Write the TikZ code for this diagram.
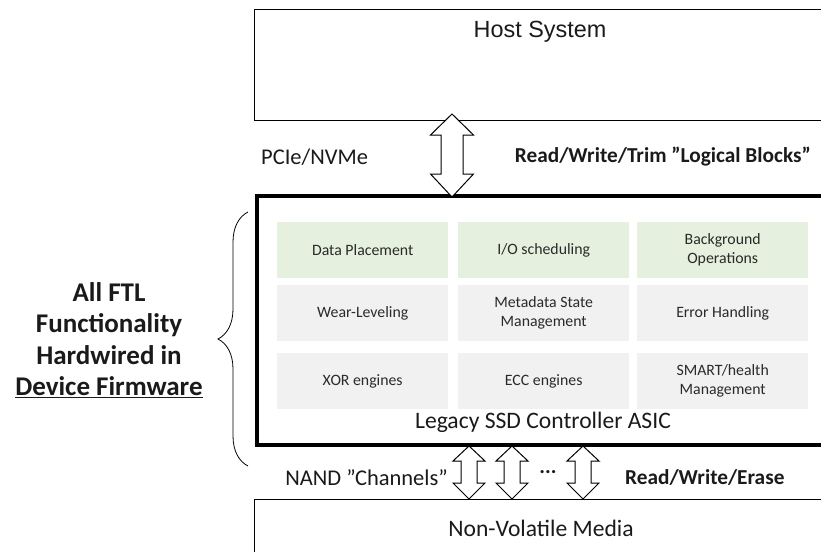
\documentclass[tikz,border=0pt]{standalone}
\usepackage{fontspec}
\setmainfont{Carlito}
\newfontfamily\arialf{Liberation Sans}
\usetikzlibrary{decorations.pathreplacing}
\definecolor{greenfill}{HTML}{E5F0DE}
\definecolor{grayfill}{HTML}{F1F1F1}
\definecolor{txt}{HTML}{1A1A1A}
\definecolor{intxt}{HTML}{2A2A2A}
\tikzset{
  outerbox/.style={draw=black, line width=1.3pt, anchor=north west, inner sep=0pt},
  ctrlbox/.style={draw=black, line width=4pt, anchor=north west, inner sep=0pt},
  cell/.style={anchor=north west, inner sep=0pt, minimum width=171pt, minimum height=56pt},
  greencell/.style={cell, fill=greenfill},
  graycell/.style={cell, fill=grayfill},
  celltext/.style={font=\fontsize{15.8}{19}\selectfont, text=intxt, align=center},
  lbl/.style={font=\fontsize{22.5}{26}\selectfont, text=txt, inner sep=0pt},
  blbl/.style={font=\bfseries\fontsize{21.3}{26}\selectfont, text=txt, inner sep=0pt},
  bigtxt/.style={font=\fontsize{23.6}{28}\selectfont, text=txt},
  dblarrowstyle/.style={draw=black, fill=white, line width=1pt, line join=miter},
}
% #1 x centre, #2 top tip, #3 bottom tip, #4 head half width, #5 shaft half width, #6 top head length, #7 bottom head length
\newcommand\mydblarrow[7]{%
  \draw[dblarrowstyle] (#1,#2) -- ({#1+#4},{#2+#6}) -- ({#1+#5},{#2+#6}) -- ({#1+#5},{#3-#7}) -- ({#1+#4},{#3-#7}) -- (#1,#3)
    -- ({#1-#4},{#3-#7}) -- ({#1-#5},{#3-#7}) -- ({#1-#5},{#2+#6}) -- ({#1-#4},{#2+#6}) -- cycle;}
\begin{document}
\begin{tikzpicture}[x=1pt,y=-1pt]
\useasboundingbox (0,0) rectangle (821,551);
\clip (0,0) rectangle (821,551);
% host
\node (host) [outerbox, minimum width=600pt, minimum height=111pt] at (254,9) {};
\node (hosttext) [font=\arialf\fontsize{23.4}{27}\selectfont, text=txt] at (540,32) {Host System};
% controller
\node (ctrl) [ctrlbox, minimum width=600pt, minimum height=249pt] at (255,194) {};
% cells
\node (c11) [greencell] at (277,222) {};
\node (c12) [greencell] at (458,222) {};
\node (c13) [greencell] at (637,222) {};
\node (c21) [graycell] at (277,285) {};
\node (c22) [graycell] at (458,285) {};
\node (c23) [graycell] at (637,285) {};
\node (c31) [graycell] at (277,353) {};
\node (c32) [graycell] at (458,353) {};
\node (c33) [graycell] at (637,353) {};
\node[celltext] at (c11.center) {Data Placement};
\node[celltext] at (c12.center) {I/O scheduling};
\node[celltext] at (c13.center) {Background\\Operations};
\node[celltext] at (c21.center) {Wear-Leveling};
\node[celltext] at (c22.center) {Metadata State\\Management};
\node[celltext] at (c23.center) {Error Handling};
\node[celltext] at (c31.center) {XOR engines};
\node[celltext] at (c32.center) {ECC engines};
\node[celltext] at (c33.center) {SMART/health\\Management};
\node (ctrltext) [bigtxt] at (543,422) {Legacy SSD Controller ASIC};
% media
\node (media) [outerbox, minimum width=600pt, minimum height=80pt] at (254,499) {};
\node (mediatext) [bigtxt] at (541,528) {Non-Volatile Media};
% arrows
\mydblarrow{452}{114}{197}{21.5}{11}{21}{23}
\mydblarrow{469}{446}{499}{16}{8}{15}{16}
\mydblarrow{512}{446}{499}{16}{8}{15}{16}
\mydblarrow{583}{446}{499}{16}{8}{15}{16}
\node (dots) [blbl] at (548,472) {...};
% labels
\node (pcie) [lbl, anchor=west] at (261,157) {PCIe/NVMe};
\node (rwt) [blbl, anchor=east] at (811,157) {Read/Write/Trim ”Logical Blocks”};
\node (nand) [lbl, anchor=east] at (448,478) {NAND ”Channels”};
\node (rwe) [blbl, anchor=west] at (625,478) {Read/Write/Erase};
% brace
\coordinate (braceb) at (248,466);
\coordinate (bracet) at (248,212);
\draw[line width=0.8pt, decorate, decoration={brace, amplitude=30pt}] (braceb) -- (bracet);
\node (ftl) [font=\bfseries\fontsize{27}{31.5}\selectfont, text=txt, align=center] at (109,340)
  {All FTL\\Functionality\\Hardwired in\\\underline{Device Firmware}};
\end{tikzpicture}
\end{document}
